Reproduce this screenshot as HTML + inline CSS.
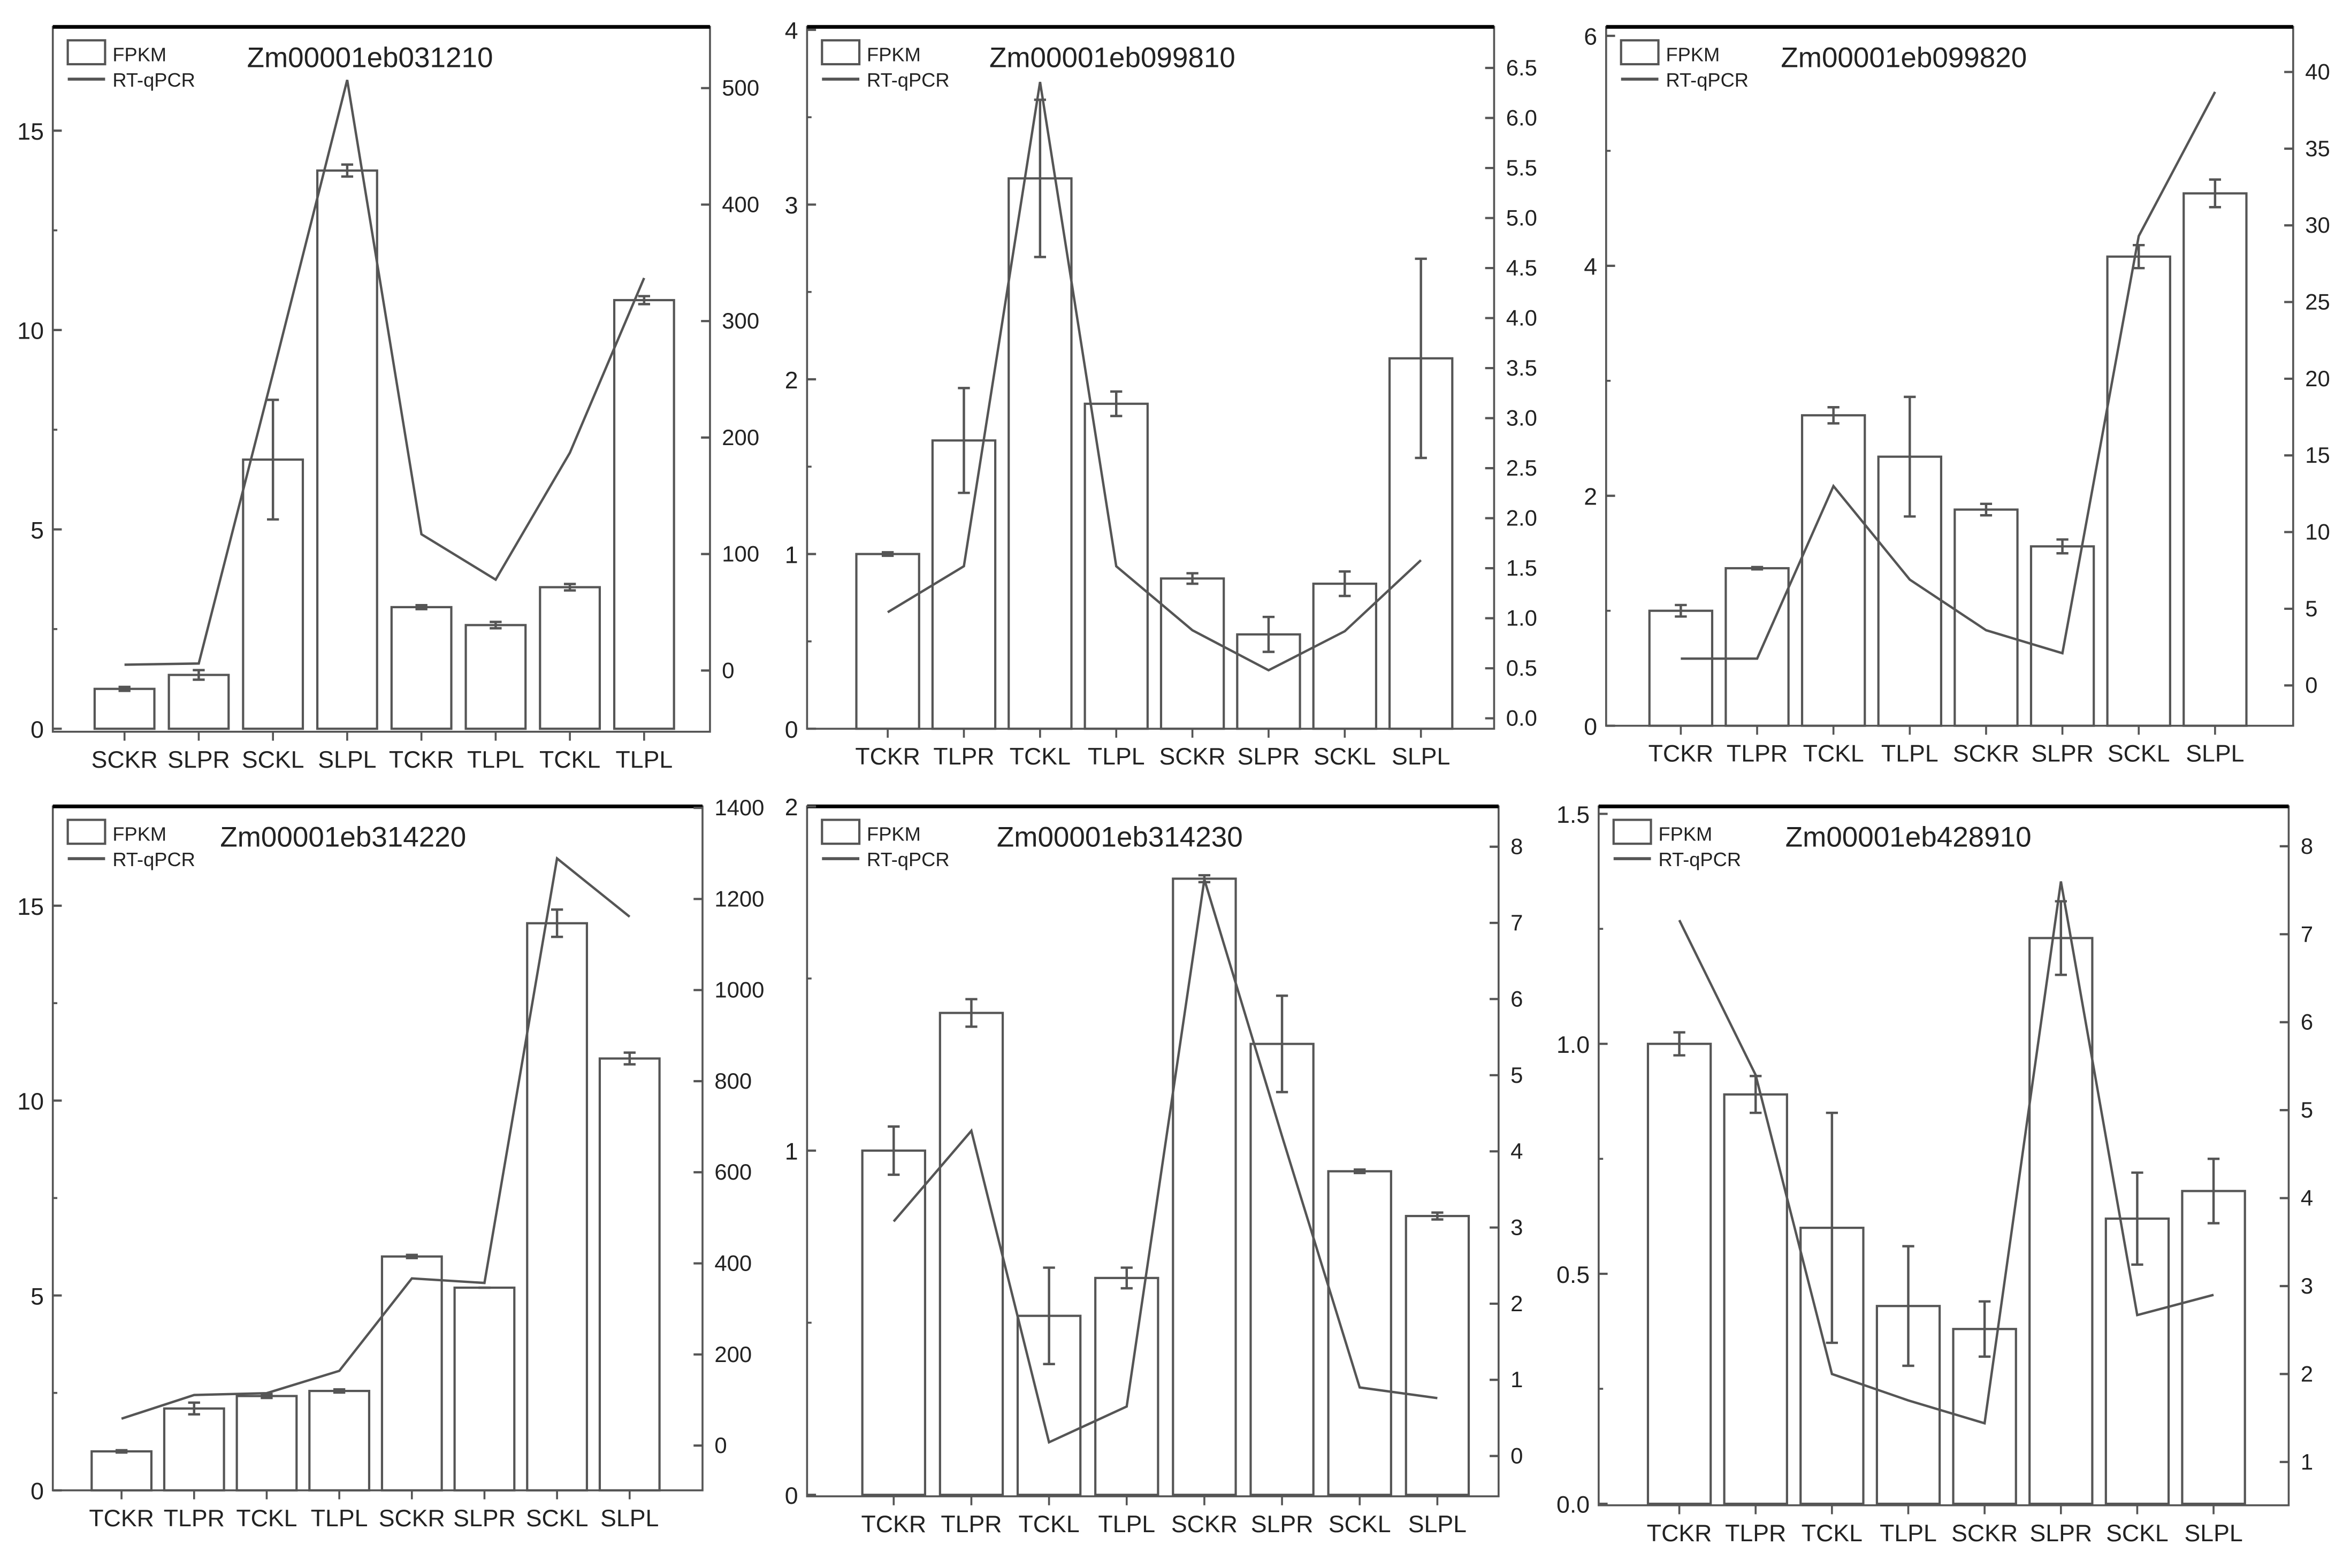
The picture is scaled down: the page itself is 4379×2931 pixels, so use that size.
<!DOCTYPE html>
<html><head><meta charset="utf-8"><style>
html,body{margin:0;padding:0;background:#fff}
svg{display:block}
text{font-family:"Liberation Sans",sans-serif;fill:#222}
</style></head><body>
<svg id="chart" width="4379" height="2931" viewBox="0 0 1568 1050" xmlns="http://www.w3.org/2000/svg"></svg>
<script>
// Panel 1
const cats1 = ["SCKR","SLPR","SCKL","SLPL","TCKR","TLPL","TCKL","TLPL"];
const fpkm1 = [1.0,1.35,6.75,14.0,3.05,2.6,3.55,10.75];
const err1 = [0.05,0.12,1.5,0.15,0.05,0.08,0.08,0.1];
const qpcr1 = [5,6,255,507,117,78,187,337];
const lt1 = [0,5,10,15];
const rt1 = [0,100,200,300,400,500];
// Panel 2
const cats2 = ["TCKR","TLPR","TCKL","TLPL","SCKR","SLPR","SCKL","SLPL"];
const fpkm2 = [1.0,1.65,3.15,1.86,0.86,0.54,0.83,2.12];
const err2 = [0.01,0.3,0.45,0.07,0.03,0.1,0.07,0.57];
const qpcr2 = [1.06,1.52,6.36,1.52,0.88,0.48,0.87,1.58];
const lt2 = [0,1,2,3,4];
const rt2 = ["0.0","0.5","1.0","1.5","2.0","2.5","3.0","3.5","4.0","4.5","5.0","5.5","6.0","6.5"];
// Panel 3
const cats3 = ["TCKR","TLPR","TCKL","TLPL","SCKR","SLPR","SCKL","SLPL"];
const fpkm3 = [1.0,1.37,2.7,2.34,1.88,1.56,4.08,4.63];
const err3 = [0.05,0.01,0.07,0.52,0.05,0.06,0.1,0.12];
const qpcr3 = [1.75,1.75,13,6.9,3.6,2.1,29.3,38.7];
const lt3 = [0,2,4,6];
const rt3 = [0,5,10,15,20,25,30,35,40];
// Panel 4
const cats4 = ["TCKR","TLPR","TCKL","TLPL","SCKR","SLPR","SCKL","SLPL"];
const fpkm4 = [1.0,2.1,2.42,2.55,6.0,5.2,14.55,11.08];
const err4 = [0.03,0.15,0.05,0.04,0.04,0,0.35,0.15];
const qpcr4 = [59,111,115,164,367,357,1289,1161];
const lt4 = [0,5,10,15];
const rt4 = [0,200,400,600,800,1000,1200,1400];
// Panel 5
const cats5 = ["TCKR","TLPR","TCKL","TLPL","SCKR","SLPR","SCKL","SLPL"];
const fpkm5 = [1.0,1.4,0.52,0.63,1.79,1.31,0.94,0.81];
const err5 = [0.07,0.04,0.14,0.03,0.01,0.14,0.005,0.01];
const qpcr5 = [3.08,4.27,0.18,0.65,7.57,4.2,0.9,0.76];
const lt5 = [0,1,2];
const rt5 = [0,1,2,3,4,5,6,7,8];
// Panel 6
const cats6 = ["TCKR","TLPR","TCKL","TLPL","SCKR","SLPR","SCKL","SLPL"];
const fpkm6 = [1.0,0.89,0.6,0.43,0.38,1.23,0.62,0.68];
const err6 = [0.025,0.04,0.25,0.13,0.06,0.08,0.1,0.07];
const qpcr6 = [7.16,5.4,2.0,1.7,1.44,7.6,2.67,2.9];
const lt6 = ["0.0","0.5","1.0","1.5"];
const rt6 = [1,2,3,4,5,6,7,8];

const NS="http://www.w3.org/2000/svg";
const svg=document.getElementById('chart');
function mk(tag,attrs,parent){const e=document.createElementNS(NS,tag);for(const k in attrs)e.setAttribute(k,attrs[k]);(parent||svg).appendChild(e);return e;}

const panels=[
 {id:1,title:"Zm00001eb031210",cats:cats1,f:fpkm1,e:err1,q:qpcr1,lt:lt1,rt:rt1,L:35,R:475,T:18,B:490,x0:83,dx:49.7,bw:40,
  ly0:488,lys:26.7,ry0:449,rys:0.78,titleX:165},
 {id:2,title:"Zm00001eb099810",cats:cats2,f:fpkm2,e:err2,q:qpcr2,lt:lt2,rt:rt2,L:540,R:1000,T:18,B:488,x0:594,dx:51,bw:42,
  ly0:488,lys:117,ry0:481,rys:67,titleX:662},
 {id:3,title:"Zm00001eb099820",cats:cats3,f:fpkm3,e:err3,q:qpcr3,lt:lt3,rt:rt3,L:1075,R:1535,T:18,B:486,x0:1125,dx:51.1,bw:42,
  ly0:486,lys:77,ry0:459,rys:10.27,titleX:1192},
 {id:4,title:"Zm00001eb314220",cats:cats4,f:fpkm4,e:err4,q:qpcr4,lt:lt4,rt:rt4,L:35,R:470,T:540,B:998,x0:81,dx:48.6,bw:40,
  ly0:998,lys:26.1,ry0:968,rys:0.305,titleX:147},
 {id:5,title:"Zm00001eb314230",cats:cats5,f:fpkm5,e:err5,q:qpcr5,lt:lt5,rt:rt5,L:540,R:1003,T:540,B:1002,x0:598,dx:52,bw:42,
  ly0:1001,lys:230.5,ry0:975,rys:51,titleX:667},
 {id:6,title:"Zm00001eb428910",cats:cats6,f:fpkm6,e:err6,q:qpcr6,lt:lt6,rt:rt6,L:1070,R:1532,T:540,B:1008,x0:1124,dx:51.1,bw:42,
  ly0:1007,lys:308,ry0:979,rys:58.9,titleX:1195,rbase:1}
];
const C="#555";
panels.forEach(p=>{
 const g=mk('g',{});
 
 
 const ly=v=>p.ly0-(+v)*p.lys;
 const rb=p.rbase||0;
 const ry=v=>p.ry0-((+v)-rb)*p.rys;
 const xc=i=>p.x0+i*p.dx;
 // frame
 const fr=mk('rect',{x:p.L,y:p.T,width:p.R-p.L,height:p.B-p.T,fill:'none',stroke:C,'stroke-width':1.3},g);
 
 
 const top=mk('line',{x1:p.L,y1:p.T,x2:p.R,y2:p.T,stroke:'#000','stroke-width':2.5},g);
 
 
 // left ticks
 p.lt.forEach((v,i)=>{
  const y=ly(v);
  const t=mk('line',{x1:p.L,y1:y,x2:p.L+6,y2:y,stroke:C,'stroke-width':1.5},g);
  
  
  if(i<p.lt.length-1){const ym=(y+ly(p.lt[i+1]))/2;
   const m=mk('line',{x1:p.L,y1:ym,x2:p.L+3,y2:ym,stroke:C,'stroke-width':1.3},g);
   
   }
  const tx=mk('text',{x:p.L-6,y:y+6,'text-anchor':'end','font-size':16},g);
  tx.textContent=v;
  
  
 });
 // right ticks
 p.rt.forEach(v=>{
  const y=ry(v);
  const t=mk('line',{x1:p.R-6,y1:y,x2:p.R,y2:y,stroke:C,'stroke-width':1.5},g);
  
  
  const tx=mk('text',{x:p.R+8,y:y+5,'font-size':15,fill:'#444'},g);
  tx.textContent=v;
  
  
 });
 // bars
 p.f.forEach((v,i)=>{
  const x=xc(i),y=ly(v);
  const b=mk('rect',{x:x-p.bw/2,y:y,width:p.bw,height:p.ly0-y,fill:'none',stroke:C,'stroke-width':1.5},g);
  
  
  const e=p.e[i],y1=ly(v+e),y2=ly(v-e);
  const eb=mk('path',{d:`M${x},${y1}V${y2}M${x-4},${y1}H${x+4}M${x-4},${y2}H${x+4}`,stroke:C,'stroke-width':1.6,fill:'none'},g);
  
  
  const bt=mk('line',{x1:x,y1:p.B,x2:x,y2:p.B+6,stroke:C,'stroke-width':1.3},g);
  
  
  const lb=mk('text',{x:x,y:p.B+24,'text-anchor':'middle','font-size':16},g);
  lb.textContent=p.cats[i];
  
  
 });
 // line
 const pts=p.q.map((v,i)=>xc(i)+','+ry(v)).join(' ');
 const pl=mk('polyline',{points:pts,fill:'none',stroke:C,'stroke-width':1.6},g);
 
 
 // legend
 const lg=mk('g',{},g);
 
 
 const lx=p.L+10,lyy=p.T+9;
 mk('rect',{x:lx,y:lyy,width:25,height:16,fill:'none',stroke:C,'stroke-width':1.5},lg);
 const t1=mk('text',{x:lx+30,y:lyy+14,'font-size':13},lg);t1.textContent="FPKM";
 
 
 mk('line',{x1:lx,y1:lyy+26,x2:lx+25,y2:lyy+26,stroke:C,'stroke-width':2},lg);
 const t2=mk('text',{x:lx+30,y:lyy+31,'font-size':13},lg);t2.textContent="RT-qPCR";
 
 
 const tt=mk('text',{x:p.titleX,y:p.T+27,'font-size':19,fill:'#000'},g);
 tt.textContent=p.title;
 
 
});
</script>
</body></html>
